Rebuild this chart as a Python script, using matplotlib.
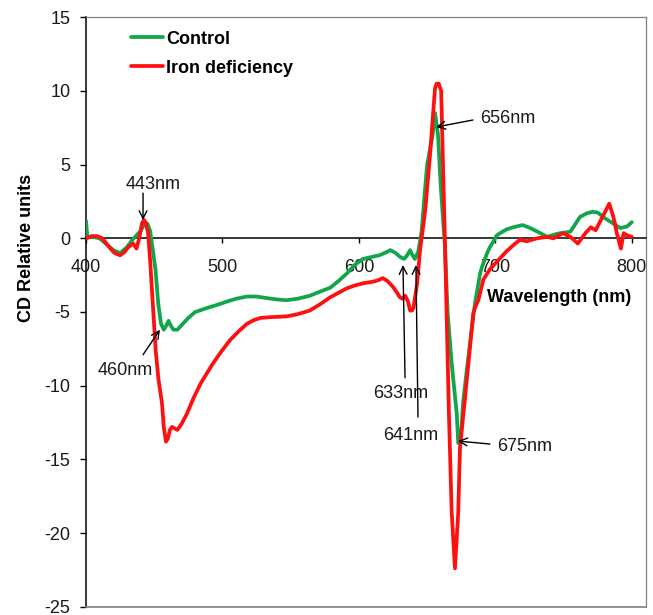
import matplotlib
matplotlib.use("Agg")
import matplotlib.pyplot as plt
from matplotlib.ticker import FuncFormatter

plt.rcParams['font.family'] = ['Liberation Sans', 'DejaVu Sans']

# ---------------- data ----------------
control_wl = [400, 401, 405, 410, 415, 420, 425, 430, 434, 437, 440, 443, 445, 447, 449, 451,
              453, 455, 457, 459, 460.5, 462, 464, 467, 470, 475, 480, 488, 495, 503, 510, 518,
              525, 532, 540, 547, 555, 564, 572, 579, 585, 591, 597, 603, 610, 615, 620, 623,
              627, 630, 633, 635, 637.5, 639, 641, 643.5, 646, 648, 650, 652, 654, 655.8, 658,
              660, 661.5, 663, 665, 668, 669.2, 671.7, 672.8, 674.5, 676.5, 679, 682.6, 685.1,
              688.8, 690, 694, 696, 698, 701, 703.5, 708, 713, 720, 725.5, 733, 738, 743, 747.5,
              755, 762, 767, 771.5, 775, 779, 783, 786.5, 791.5, 796.5, 800]
control_cd = [1.2, 0.05, 0.1, 0.0, -0.4, -0.8, -1.0, -0.6, -0.1, 0.2, 0.5, 1.0, 1.0, 0.5, -0.8, -2.2,
              -4.5, -5.8, -6.2, -5.9, -5.6, -5.9, -6.2, -6.2, -5.9, -5.4, -5.0, -4.75, -4.55, -4.3, -4.1, -3.95,
              -3.95, -4.05, -4.15, -4.2, -4.1, -3.9, -3.6, -3.35, -2.9, -2.4, -1.8, -1.4, -1.25, -1.15, -0.95, -0.8,
              -1.0, -1.25, -1.4, -1.2, -0.8, -1.1, -1.4, -0.9, 0.5, 2.8, 5.0, 6.0, 7.0, 8.5, 7.0,
              3.5, 1.5, -0.5, -5.0, -8.5, -9.6, -11.9, -13.9, -13.8, -11.0, -9.0, -6.2, -4.4,
              -2.4, -2.0, -1.0, -0.6, -0.3, 0.2, 0.35, 0.6, 0.75, 0.9, 0.7, 0.35, 0.1, 0.25, 0.35,
              0.45, 1.45, 1.7, 1.8, 1.75, 1.45, 1.2, 1.0, 0.7, 0.8, 1.1]

iron_wl = [400, 404, 408, 412, 417, 421, 425, 428, 431, 434.5, 437, 439, 441, 442.5, 444, 445.5,
           447, 449, 451, 453, 455.7, 457, 458.6, 460, 461.5, 463, 465, 467, 470, 474, 479, 484,
           489, 493, 499, 505.6, 512, 518, 523, 528, 535, 547, 555, 564, 572, 579, 585, 591,
           597, 603, 610, 614, 617.5, 621, 625, 628, 630, 632, 634, 636, 637.5, 639, 640, 642.7,
           644.8, 648.5, 652, 654, 655.8, 657, 658.5, 660.3, 661.5, 663, 664.5, 666, 668, 670.4,
           672.8, 674.1, 677.8, 681.4, 683.8, 685.1, 687.5, 691.2, 696, 701, 708.5, 714, 718, 723,
           730.5, 738, 742.5, 749.5, 755, 760.5, 766, 770, 773.5, 778.5, 783.5, 786.5, 789, 792,
           794, 796.5, 800]
iron_cd = [0.0, 0.15, 0.15, 0.0, -0.6, -1.0, -1.15, -0.95, -0.6, -0.35, -0.7, 0.0, 1.0, 1.25, 1.0, 0.35,
           -1.5, -4.5, -7.5, -9.5, -11.2, -12.8, -13.8, -13.6, -13.0, -12.8, -12.9, -13.0, -12.6, -11.9, -10.8, -9.85,
           -9.1, -8.5, -7.7, -6.9, -6.3, -5.8, -5.55, -5.4, -5.35, -5.3, -5.15, -4.9, -4.45, -4.0, -3.7, -3.4,
           -3.2, -3.05, -2.95, -2.85, -2.7, -2.9, -3.3, -3.7, -4.0, -4.1, -3.9, -4.3, -4.9, -4.9, -4.7, -3.05,
           -0.8, 1.8, 5.5, 8.0, 10.2, 10.5, 10.5, 10.0, 5.5, 0.0, -6.0, -12.0, -18.6, -22.4,
           -18.6, -14.2, -10.8, -7.4, -5.1, -4.7, -4.2, -2.8, -2.1, -1.6, -0.85, -0.4, -0.1, -0.2,
           0.0, 0.1, 0.0, 0.35, 0.1, -0.35, 0.35, 0.75, 0.55, 1.45, 2.35, 1.45, 0.35, -0.7,
           0.35, 0.2, 0.1]

series_names = ["Control", "Iron deficiency"]
x_ticks = [400, 500, 600, 700, 800]
y_ticks = [15, 10, 5, 0, -5, -10, -15, -20, -25]
x_label = "Wavelength (nm)"
y_label = "CD Relative units"

# annotation labels: (text, text position, arrow tail, arrow head) in data units
ann_labels = ["443nm", "460nm", "633nm", "641nm", "656nm", "675nm"]
ann_text_xy = [(449.1, 3.62), (428.6, -9.0), (630.9, -10.5), (638.2, -13.35), (709.3, 8.16), (721.7, -14.16)]
ann_tail_xy = [(441.8, 3.07), (441.8, -7.9), (633.8, -9.46), (643.3, -12.13), (683.6, 8.03), (696.1, -13.96)]
ann_head_xy = [(441.8, 1.24), (454.2, -6.2), (632.3, -1.81), (641.8, -1.81), (656.5, 7.55), (672.6, -13.76)]

# ---------------- figure ----------------
W, H = 653, 615
fig = plt.figure(figsize=(W / 100, H / 100), dpi=100)
fig.patch.set_facecolor('white')
ax = fig.add_axes([86 / W, 1 - 606.7 / H, (646 - 86) / W, (606.7 - 17.3) / H])

green = '#12a64a'
red = '#ff1010'
ax.plot(control_wl, control_cd, color=green, lw=2.7, label=series_names[0],
        solid_joinstyle='round', solid_capstyle='round', zorder=3)
ax.plot(iron_wl, iron_cd, color=red, lw=2.7, label=series_names[1],
        solid_joinstyle='round', solid_capstyle='round', zorder=4)

ax.set_xlim(400, 810.4)
ax.set_ylim(-25, 15)

# spines
ax.spines['left'].set_color('black')
ax.spines['left'].set_linewidth(1.1)
ax.spines['bottom'].set_position(('data', 0))
ax.spines['bottom'].set_color('black')
ax.spines['bottom'].set_linewidth(1.1)
for s in ['top', 'right']:
    ax.spines[s].set_color('#808080')
    ax.spines[s].set_linewidth(0.9)
ax.plot([0, 1], [0, 0], transform=ax.transAxes, color='#808080', lw=1.2, clip_on=False, zorder=5)

ax.set_xticks(x_ticks)
ax.set_yticks(y_ticks)
ax.yaxis.set_major_formatter(FuncFormatter(lambda v, p: f"{int(v)}".replace('\u2212', '-')))
ax.tick_params(axis='x', direction='out', length=3.8, width=1.0, pad=11, labelsize=13, colors='black')
ax.tick_params(axis='y', direction='out', length=4.2, width=1.0, pad=7, labelsize=13, colors='black')
for t in ax.get_xticklabels() + ax.get_yticklabels():
    t.set_color('#1a1a1a')

# legend
leg = ax.legend(loc='upper left', bbox_to_anchor=(131 / W, 1 - 30.5 / H), bbox_transform=fig.transFigure,
                frameon=False, prop={'weight': 'bold', 'size': 13}, handlelength=1.77,
                handletextpad=0.17, labelspacing=0.68, borderpad=0, borderaxespad=0)

# axis labels
fig.text(27 / W, 1 - 248 / H, y_label, rotation=90, ha='center', va='center',
         fontsize=13, fontweight='bold')
fig.text(487 / W, 1 - 297 / H, x_label, ha='left', va='center', fontsize=13, fontweight='bold')

# annotations
for lab, txy, tail, head in zip(ann_labels, ann_text_xy, ann_tail_xy, ann_head_xy):
    ax.text(txy[0], txy[1], lab, ha='center', va='center', fontsize=13, color='#1a1a1a', zorder=6)
    ax.annotate('', xy=head, xytext=tail,
                arrowprops=dict(arrowstyle='->', color='black', lw=1.0, mutation_scale=14,
                                shrinkA=0, shrinkB=0), zorder=6)

fig.savefig('out.png', dpi=100)
